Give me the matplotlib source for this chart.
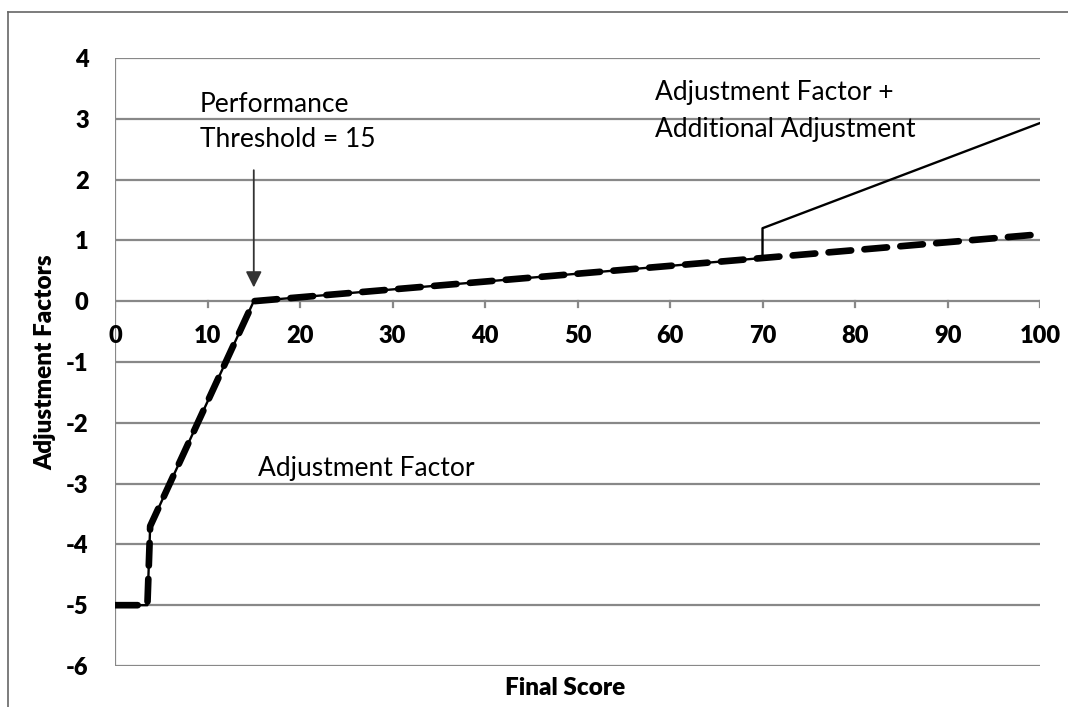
import matplotlib.pyplot as plt
from matplotlib.lines import Line2D

plt.rcParams['font.family'] = ['Lato', 'DejaVu Sans']

# Adjustment factor (dashed)
adj_x = [0, 3.5, 3.8, 15, 70, 100]
adj_y = [-5, -5, -3.7, 0, 0.71, 1.1]

# Adjustment factor + additional adjustment (solid)
add_x = [0, 3.5, 3.8, 15, 70, 70, 100]
add_y = [-5, -5, -3.7, 0, 0.71, 1.2, 2.93]

x_ticks = [0, 10, 20, 30, 40, 50, 60, 70, 80, 90, 100]
y_ticks = [4, 3, 2, 1, 0, -1, -2, -3, -4, -5, -6]

fig = plt.figure(figsize=(10.68, 7.07), dpi=100)
ax = fig.add_axes([0.1077, 0.058, 0.8661, 0.860])

for y in y_ticks:
    ax.axhline(y, color='#888888', lw=1.6, zorder=1)
ax.axvline(0, color='#888888', lw=1.6, zorder=1)

ax.plot(add_x, add_y, color='black', lw=1.7, zorder=3)
ax.plot(adj_x, adj_y, color='black', lw=4.8, dashes=(3.4, 2.0),
        dash_capstyle='round', zorder=4)

# x ticks sit on the zero line, labels just below it
for x in x_ticks:
    ax.plot([x, x], [0, -0.1], color='#888888', lw=1.6, zorder=1)
    ax.text(x, -0.58, str(x), ha='center', va='center', fontsize=17, fontweight='heavy')

ax.set_xlim(0, 100)
ax.set_ylim(-6, 4)
ax.set_xticks([])
ax.set_yticks(y_ticks)
ax.set_yticklabels([str(v) for v in y_ticks], fontsize=17, fontweight='heavy')
ax.tick_params(axis='y', length=0, pad=19)
for s in ax.spines.values():
    s.set_visible(False)

fig.text(45 / 1068, 0.488, 'Adjustment Factors', rotation=90, ha='center', va='center',
         fontsize=17.5, fontweight='heavy')
fig.text(565 / 1068, 0.027, 'Final Score', ha='center', va='center',
         fontsize=17.5, fontweight='heavy')

ax.text(9.2, 3.11, 'Performance', fontsize=19, ha='left', va='baseline')
ax.text(9.2, 2.53, 'Threshold = 15', fontsize=19, ha='left', va='baseline')
ax.annotate('', xy=(15, 0.18), xytext=(15, 2.2),
            arrowprops=dict(arrowstyle='-|>', color='#333333', lw=1.3, mutation_scale=24))
ax.text(58.4, 3.31, 'Adjustment Factor +', fontsize=19, ha='left', va='baseline')
ax.text(58.4, 2.70, 'Additional Adjustment', fontsize=19, ha='left', va='baseline')
ax.text(15.5, -2.88, 'Adjustment Factor', fontsize=19, ha='left', va='baseline')

# image frame
fig.add_artist(Line2D([0.0075, 1.0], [0.983, 0.983], color='#666666', lw=1.2))
fig.add_artist(Line2D([0.0075, 0.0075], [0.0, 0.983], color='#666666', lw=1.2))

fig.savefig('out.png', dpi=100)
